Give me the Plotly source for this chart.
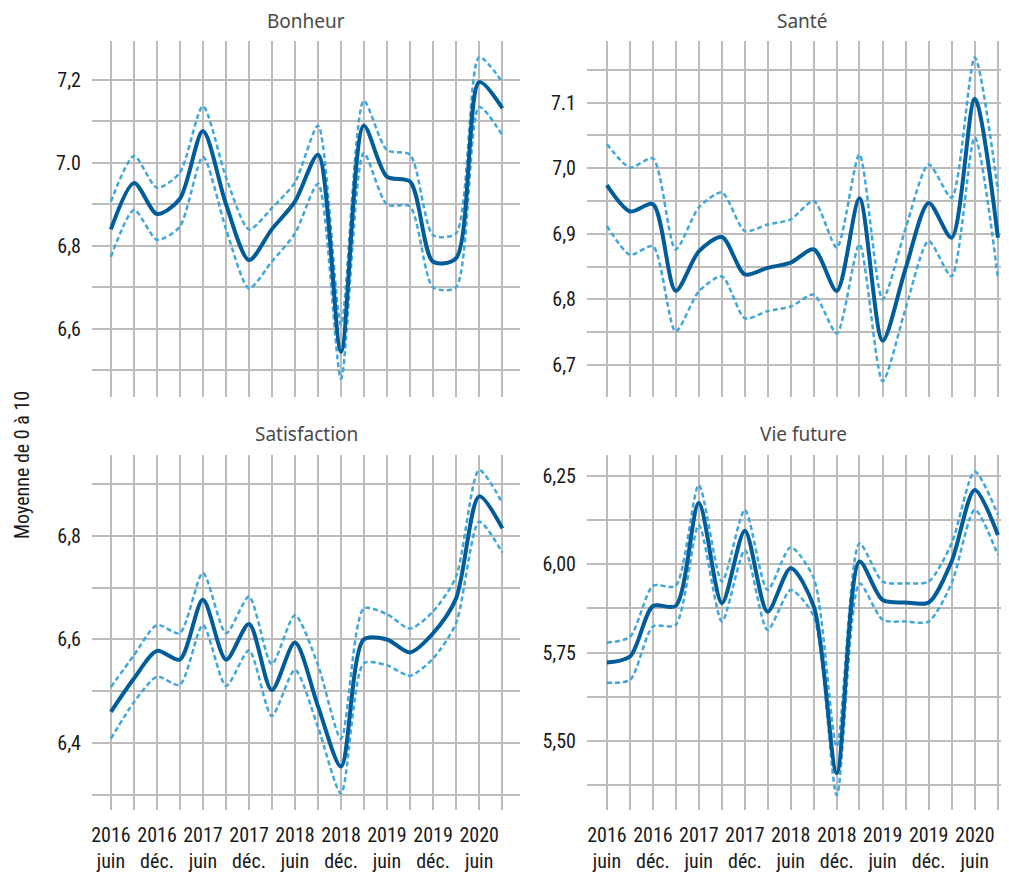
import plotly.graph_objects as go

# trimestres, de juin 2016 à septembre 2020
dates = ["2016-06-01", "2016-09-01", "2016-12-01", "2017-03-01", "2017-06-01", "2017-09-01",
         "2017-12-01", "2018-03-01", "2018-06-01", "2018-09-01", "2018-12-01", "2019-03-01",
         "2019-06-01", "2019-09-01", "2019-12-01", "2020-03-01", "2020-06-01", "2020-09-01"]
x_labels = ["2016<br>juin", "", "2016<br>déc.", "", "2017<br>juin", "", "2017<br>déc.", "",
            "2018<br>juin", "", "2018<br>déc.", "", "2019<br>juin", "", "2019<br>déc.", "",
            "2020<br>juin", ""]

# Bonheur
bonheur_moy = [6.84, 6.952, 6.877, 6.913, 7.077, 6.90, 6.766, 6.84, 6.907, 7.02, 6.545, 7.09,
               6.967, 6.955, 6.762, 6.77, 7.195, 7.132]
bonheur_haut = [6.907, 7.017, 6.94, 6.976, 7.137, 6.965, 6.84, 6.891, 6.953, 7.09, 6.61, 7.15,
                7.031, 7.02, 6.826, 6.83, 7.255, 7.195]
bonheur_bas = [6.774, 6.887, 6.815, 6.846, 7.015, 6.84, 6.698, 6.762, 6.83, 6.95, 6.48, 7.024,
               6.90, 6.895, 6.70, 6.70, 7.135, 7.067]
bonheur_ticks = [6.5, 6.6, 6.7, 6.8, 6.9, 7.0, 7.1, 7.2]
bonheur_text = ["", "6,6", "", "6,8", "", "7.0", "", "7,2"]

# Santé
sante_moy = [6.974, 6.934, 6.945, 6.813, 6.873, 6.895, 6.838, 6.848, 6.856, 6.876, 6.813, 6.954,
             6.737, 6.848, 6.947, 6.894, 7.106, 6.894]
sante_haut = [7.037, 7.001, 7.015, 6.876, 6.94, 6.963, 6.904, 6.914, 6.922, 6.95, 6.879, 7.021,
              6.80, 6.909, 7.006, 6.955, 7.169, 6.965]
sante_bas = [6.912, 6.868, 6.881, 6.751, 6.812, 6.835, 6.771, 6.782, 6.789, 6.807, 6.748, 6.884,
             6.675, 6.787, 6.889, 6.835, 7.047, 6.833]
sante_ticks = [6.7, 6.75, 6.8, 6.85, 6.9, 6.95, 7.0, 7.05, 7.1, 7.15]
sante_text = ["6,7", "", "6,8", "", "6,9", "", "7,0", "", "7.1", ""]

# Satisfaction
satis_moy = [6.46, 6.525, 6.578, 6.561, 6.677, 6.561, 6.63, 6.502, 6.594, 6.47, 6.354, 6.60,
             6.60, 6.575, 6.612, 6.679, 6.877, 6.815]
satis_haut = [6.508, 6.57, 6.628, 6.612, 6.729, 6.612, 6.683, 6.552, 6.647, 6.55, 6.408, 6.66,
              6.649, 6.621, 6.654, 6.721, 6.928, 6.864]
satis_bas = [6.408, 6.479, 6.528, 6.512, 6.628, 6.51, 6.579, 6.452, 6.541, 6.43, 6.302, 6.554,
             6.55, 6.53, 6.563, 6.631, 6.828, 6.768]
satis_ticks = [6.3, 6.4, 6.5, 6.6, 6.7, 6.8, 6.9]
satis_text = ["", "6,4", "", "6,6", "", "6,8", ""]

# Vie future
futur_moy = [5.722, 5.739, 5.882, 5.882, 6.173, 5.89, 6.095, 5.866, 5.989, 5.88, 5.409, 6.008,
             5.899, 5.892, 5.892, 6.008, 6.21, 6.083]
futur_haut = [5.778, 5.795, 5.939, 5.939, 6.224, 5.951, 6.154, 5.927, 6.048, 5.96, 5.484, 6.059,
              5.951, 5.946, 5.951, 6.059, 6.262, 6.14]
futur_bas = [5.665, 5.673, 5.824, 5.828, 6.111, 5.838, 6.04, 5.814, 5.927, 5.852, 5.347, 5.946,
             5.843, 5.838, 5.838, 5.946, 6.154, 6.026]
futur_ticks = [5.375, 5.5, 5.625, 5.75, 5.875, 6.0, 6.125, 6.25]
futur_text = ["", "5,50", "", "5,75", "", "6,00", "", "6,25"]

FONT = "Roboto Condensed, Liberation Sans Narrow, DejaVu Sans Condensed, Roboto, sans-serif"
FONT_TITRE = "Noto Sans, Open Sans, sans-serif"
BLEU = "#005d9a"
BLEU_CLAIR = "#41a7d9"
GRILLE = "#bcbcbc"

panneaux = [
    ("Bonheur", bonheur_moy, bonheur_haut, bonheur_bas, bonheur_ticks, bonheur_text, [6.436, 7.294]),
    ("Santé", sante_moy, sante_haut, sante_bas, sante_ticks, sante_text, [6.651, 7.194]),
    ("Satisfaction", satis_moy, satis_haut, satis_bas, satis_ticks, satis_text, [6.27, 6.957]),
    ("Vie future", futur_moy, futur_haut, futur_bas, futur_ticks, futur_text, [5.305, 6.309]),
]

# la page html ajoute une marge de 8 px autour du graphique
OFF = 8
W, H = 1009 - OFF, 873 - OFF


def px(x):
    return (x - OFF) / W


def py(y):
    return 1 - (y - OFF) / H


dom_x = [[px(92), px(520)], [px(587), 1.0], [px(92), px(520)], [px(587), 1.0]]
dom_y = [[py(397), py(41)], [py(397), py(41)], [py(810), py(455)], [py(810), py(455)]]
x_range = [["2016-03-18", "2020-11-10"], ["2016-03-14", "2020-10-15"],
           ["2016-03-18", "2020-11-10"], ["2016-03-14", "2020-10-15"]]
titre_x = [306, 802, 306, 803]
titre_y = [21, 21, 434, 434]

fig = go.Figure()
layout = {}
for k, (nom, moy, haut, bas, yt, ytxt, yr) in enumerate(panneaux):
    n = "" if k == 0 else str(k + 1)
    for serie in (haut, bas):
        fig.add_trace(go.Scatter(x=dates, y=serie, mode="lines", xaxis="x" + n, yaxis="y" + n,
                                 line=dict(color=BLEU_CLAIR, width=2.5, dash="5px,3px", shape="spline",
                                           smoothing=0.7),
                                 showlegend=False, hoverinfo="skip"))
    fig.add_trace(go.Scatter(x=dates, y=moy, mode="lines", xaxis="x" + n, yaxis="y" + n,
                             line=dict(color=BLEU, width=4, shape="spline", smoothing=0.8),
                             showlegend=False))
    layout["xaxis" + n] = dict(
        domain=dom_x[k], anchor="y" + n, type="date", range=x_range[k], automargin=False,
        tickmode="array", tickvals=dates, ticktext=x_labels, showticklabels=k >= 2,
        showgrid=True, gridcolor=GRILLE, gridwidth=1.8, zeroline=False, showline=False,
        ticks="", tickangle=0, ticklabelstandoff=11,
        tickfont=dict(family=FONT, size=20, color="#1a1a1a"))
    layout["yaxis" + n] = dict(
        domain=dom_y[k], anchor="x" + n, range=yr, automargin=False,
        tickmode="array", tickvals=yt, ticktext=ytxt,
        showgrid=True, gridcolor=GRILLE, gridwidth=1.8, zeroline=False, showline=False,
        ticks="", ticklabelstandoff=10,
        tickfont=dict(family=FONT, size=20, color="#1a1a1a"))
    fig.add_annotation(text=nom, x=px(titre_x[k]), y=py(titre_y[k]), xref="paper", yref="paper",
                       xanchor="center", yanchor="middle", showarrow=False, borderpad=0,
                       font=dict(family=FONT_TITRE, size=19, color="#4a4a4a"))

fig.add_annotation(text="Moyenne de 0 à 10", x=px(22), y=py(465), xref="paper", yref="paper",
                   xanchor="center", yanchor="middle", textangle=-90, showarrow=False,
                   font=dict(family=FONT, size=20, color="#1a1a1a"))

fig.update_layout(**layout)
fig.update_layout(width=W, height=H, margin=dict(l=0, r=0, t=0, b=0),
                  plot_bgcolor="white", paper_bgcolor="white", showlegend=False,
                  font=dict(family=FONT))
fig.write_html("out.html")
